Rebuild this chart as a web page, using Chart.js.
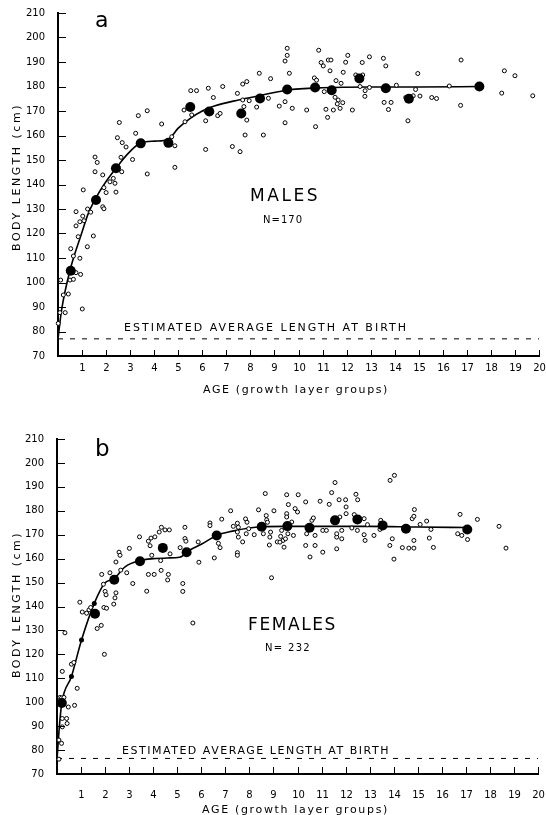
<!DOCTYPE html>
<html>
<head>
<meta charset="utf-8">
<script src="https://cdn.jsdelivr.net/npm/chart.js@4.4.1/dist/chart.umd.min.js"></script>
<style>
  html, body { margin: 0; padding: 0; background: #fff; }
  #wrap { position: relative; width: 546px; height: 815px; }
  canvas { position: absolute; left: 0; }
</style>
</head>
<body>
<div id="wrap">
  <canvas id="males" width="546" height="405" style="top:0"></canvas>
  <canvas id="females" width="546" height="410" style="top:405px"></canvas>
</div>
<script>
// ---- males (panel a) ----
const maleAge = [0.01,0.08,0.3,0.11,0.22,0.43,0.5,0.75,0.94,0.64,1.01,0.53,0.91,0.64,0.84,1.22,1.47,0.75,0.91,1.08,1.03,0.75,1.23,1.36,1.86,1.91,2.0,2.41,
  1.05,1.54,1.63,1.54,1.86,2.16,2.3,2.37,1.91,2.65,2.55,2.47,2.67,2.83,2.62,3.1,3.23,3.34,3.71,3.71,4.31,4.86,4.86,4.73,5.24,5.28,5.52,5.76,5.56,6.15,6.14,6.25,6.46,6.64,6.74,6.85,6.14,7.46,7.25,7.57,7.68,7.78,7.85,7.73,7.85,7.68,7.95,8.37,8.84,8.26,8.54,8.75,9.2,
  9.53,9.53,9.44,9.62,9.44,9.74,10.34,9.44,10.71,10.84,10.94,11.03,11.24,11.35,11.31,10.66,10.75,11.07,11.86,11.96,12.05,11.56,11.77,11.52,11.65,11.84,11.61,11.73,11.14,11.45,11.21,12.24,12.38,12.67,12.65,12.95,12.56,12.77,12.76,12.95,13.53,13.63,14.07,13.56,13.85,13.74,14.55,14.46,14.77,14.87,15.05,14.96,15.54,15.74,16.27,16.76,16.74,18.56,19.0,18.45,19.74];
const maleLen = [83.3,87.7,87.7,101,94.9,95.3,101,104,103.3,101.3,89.2,113.8,109.9,110.8,118.7,114.6,119,123.1,124.8,125.2,127.1,128.9,130,128.7,130.9,130.1,136.7,136.9,
  137.8,151.2,149,145.2,143.9,141.1,142.5,140.5,138.7,145.2,165.3,159.1,157.1,155.3,151.1,150.2,160.9,168.1,170.1,144.3,164.7,147,155.8,159.5,170.4,165.6,178.3,178.3,168.4,170,166,179.3,175.5,168.1,169,180,154.3,177.2,155.5,153.4,174.5,160.2,166.3,171.8,182,181,174.2,185.4,183.2,171.6,160.2,175.2,172,
  195.6,192.7,190.4,185.4,173.8,171.1,170.4,165.2,163.6,194.8,189.8,188.4,190.8,190.8,186.4,183.5,182.6,177.9,185.8,189.9,192.7,182.4,181.3,175.6,174.5,173.4,172.9,171.1,170.7,170.4,167.4,170.4,184.7,184.7,189.8,192.1,180,178.3,176,179.6,191.5,188.4,180.5,173.5,173.5,170.6,166,175.5,176.2,178.8,176.1,185.3,175.5,175.1,180.2,190.8,172.3,186.4,184.4,177.3,176.2];
const maleMeanAge = [0.53,1.58,2.41,3.44,4.59,5.5,6.29,7.62,8.4,9.53,10.69,11.38,12.53,13.63,14.59,17.52];
const maleMeanLen = [104.8,133.7,146.6,156.8,157,171.6,169.8,169,175.1,178.8,179.6,178.5,183.3,179.3,175,180];
const maleCurveAge = [0,0.15,0.5,0.98,1.26,1.54,1.95,2.41,2.92,3.45,4.03,4.59,5.0,5.5,6.0,6.5,7.5,8.5,9.5,11,13,15,17.52];
const maleCurveLen = [77,88.8,105,120,128.2,133.9,140.5,146.6,152.7,157,157.7,158.5,163,167,170,172,174.5,176.5,178.5,179.5,179.8,179.8,180];
const maleBirth = 77;

// ---- females (panel b) ----
const femaleAge = [0.95,1.05,1.23,1.33,1.4,1.67,1.84,1.97,1.95,2.06,2.36,0.33,0.22,0.6,0.7,0.84,0.73,0.12,0.19,0.29,0.47,0.22,0.4,0.42,0.22,0.19,0.08,0.08,5.65,
  1.86,2.2,1.93,2.0,2.04,2.41,2.45,2.45,2.58,2.62,2.65,2.9,3.01,3.15,3.73,3.43,3.8,3.87,3.91,4.07,4.25,4.34,4.49,4.67,3.8,4.04,4.33,4.63,4.6,3.94,4.31,4.7,5.23,5.23,5.12,5.32,5.32,5.36,5.9,5.87,6.36,6.36,6.54,6.71,6.78,6.85,7.22,7.33,7.5,7.54,7.5,7.54,7.72,7.5,7.5,7.84,7.9,7.97,7.87,8.2,8.38,8.66,8.7,8.72,8.75,8.58,8.88,8.85,8.83,9.16,8.92,9.02,
  9.55,9.62,10.03,9.9,10.0,9.55,9.55,9.76,9.34,9.6,9.83,9.3,9.4,9.5,9.44,9.27,10.34,10.6,10.66,10.38,10.45,10.73,10.73,10.34,10.52,10.94,11.32,11.42,11.56,11.73,12.0,12.02,12.02,11.05,11.2,11.05,11.63,11.76,11.63,11.63,11.84,11.84,12.26,12.43,12.5,12.36,12.49,12.77,12.91,12.77,12.81,13.18,13.46,13.43,13.85,14.03,13.94,13.84,14.01,14.36,14.63,14.84,14.84,14.77,14.84,14.86,15.1,15.37,15.55,15.48,15.65,16.76,16.66,16.83,17.07,17.48,18.38,18.67];
const femaleLen = [141.8,137.7,137.2,138.6,139.6,130.8,132.1,120,139.6,139.3,141,129,112.9,115.9,116.6,105.8,98.7,102,101.8,102,98,93.2,93.2,91.1,89.7,82.8,76.2,84.2,133.1,
  153.4,154.1,149.3,146.3,144.9,143.6,145.7,158.6,162.7,161.4,155.2,154.1,164.3,149.6,146.4,169.1,167.3,165.4,168.6,169.1,171.1,173.1,172,172,153.4,153.4,155.1,153.4,151.1,161.4,159.2,162,149.6,146.3,164.6,173.1,168.4,167.3,158.5,167,174.9,173.8,160.3,166.4,164.6,176.5,180,173.5,174.8,173.1,171.1,169,167,162.5,161.4,176.6,175.2,172.5,170.4,170,180.4,187.2,178,176.2,175.2,170.4,171.1,169,165.7,167,152,180,
  186.7,182.6,186.7,180.9,179.5,178.8,177.4,175.3,171.8,170.4,169.7,169.3,167.6,168.3,164.8,166.9,183.7,176,177,170.4,172.1,169.7,165.5,165.5,160.7,184,182.7,187.6,191.8,184.6,184.6,181.6,178.8,171.8,171.8,162.7,164.1,177.4,169,170.4,171.8,168.3,172.8,186.9,184.6,178.4,171.8,176.7,174.2,170,167.6,169.7,176,172.2,192.7,194.8,168.3,165.5,159.8,164.6,164.4,164.4,167.6,176.7,177.7,180.5,174.3,175.7,172.2,168.6,164.7,178.5,170.4,169.7,168,176.4,173.5,164.4];
const femaleMeanAge = [0.2,1.58,2.38,3.45,4.4,5.39,6.64,8.51,9.58,10.5,11.56,12.49,13.54,14.51,17.06];
const femaleMeanLen = [99.7,137,151.2,158.9,164.5,162.7,169.7,173.3,173.6,172.9,176,176.4,173.9,172.5,172.2];
const femaleDotAge = [0.6,1.02,1.55];
const femaleDotLen = [110.7,126,141.3];
const femaleCurveAge = [0,0.1,0.2,0.6,1.02,1.55,1.98,2.38,2.83,3.45,4.0,4.6,5.1,5.5,6.0,6.64,7.3,8.0,8.5,9.5,11,13,15,17.06];
const femaleCurveLen = [76,90,99.7,110.7,126,141.3,149.7,151.7,156.6,159.2,160,160.3,160.6,163.5,166,169.7,171.5,172.8,173.3,173.5,173.5,173.5,173.2,173];
const femaleBirth = 76.5;

const FONT = '"DejaVu Sans", sans-serif';

function pairs(xs, ys) {
  return xs.map((x, i) => ({x: x, y: ys[i]}));
}

// text with spacing stretched to a given width
function spaced(ctx, t) {
  ctx.save();
  ctx.font = t.font;
  ctx.fillStyle = '#000';
  ctx.textAlign = 'left';
  ctx.textBaseline = 'alphabetic';
  ctx.translate(t.x, t.y);
  if (t.rot) ctx.rotate(-Math.PI / 2);
  if (t.w) {
    ctx.letterSpacing = '0px';
    const natural = ctx.measureText(t.text).width;
    ctx.letterSpacing = ((t.w - natural) / t.text.length) + 'px';
  }
  ctx.fillText(t.text, 0, 0);
  ctx.letterSpacing = '0px';
  ctx.restore();
}

// inward tick marks, age labels under the axis, and the panel lettering
const decor = {
  id: 'decor',
  afterDraw(chart, args, opts) {
    const ctx = chart.ctx;
    const xs = chart.scales.x, ys = chart.scales.y;
    ctx.save();
    ctx.strokeStyle = '#000';
    ctx.fillStyle = '#000';
    ctx.lineWidth = 1;
    ys.ticks.forEach(t => {
      const py = Math.round(ys.getPixelForValue(t.value)) + 0.5;
      ctx.beginPath();
      ctx.moveTo(xs.left, py);
      ctx.lineTo(xs.left + 8, py);
      ctx.stroke();
    });
    ctx.font = '10px ' + FONT;
    ctx.textAlign = 'center';
    ctx.textBaseline = 'middle';
    xs.ticks.forEach(t => {
      if (t.value === 0) return;
      const px = Math.round(xs.getPixelForValue(t.value)) + 0.5;
      ctx.beginPath();
      ctx.moveTo(px, ys.bottom);
      ctx.lineTo(px, ys.bottom - opts.tick);
      ctx.stroke();
      ctx.fillText(String(t.value), px, ys.bottom + opts.labelGap);
    });
    ctx.restore();
    opts.texts.forEach(t => spaced(ctx, t));
  }
};

function makePanel(id, p) {
  const datasets = [
    { data: pairs(p.meanAge, p.meanLen), pointRadius: 5, backgroundColor: '#000', borderColor: '#000', borderWidth: 0, order: 0, clip: false },
    { data: pairs(p.openAge, p.openLen), pointRadius: 2, borderWidth: 1, backgroundColor: '#fff', borderColor: '#000', order: 1, clip: false },
    { type: 'line', data: pairs(p.curveAge, p.curveLen), borderColor: '#000', borderWidth: 1.6, pointRadius: 0, cubicInterpolationMode: 'monotone', fill: false, order: 2 },
    { type: 'line', data: [{x: 0, y: p.birth}, {x: 20, y: p.birth}], borderColor: '#000', borderWidth: 1, borderDash: [5, 7], pointRadius: 0, fill: false, order: 3 }
  ];
  if (p.dotAge) {
    datasets.push({ data: pairs(p.dotAge, p.dotLen), pointRadius: 2.5, backgroundColor: '#000', borderColor: '#000', borderWidth: 0, order: 0 });
  }
  return new Chart(document.getElementById(id), {
    type: 'scatter',
    data: { datasets: datasets },
    plugins: [decor],
    options: {
      responsive: false,
      animation: false,
      events: [],
      layout: { padding: { left: 0, top: p.top, right: p.right, bottom: 0 } },
      plugins: {
        legend: { display: false },
        tooltip: { enabled: false },
        decor: { texts: p.texts, tick: p.tick, labelGap: p.labelGap }
      },
      scales: {
        x: {
          type: 'linear', min: 0, max: 20,
          grid: { display: false },
          border: { display: true, width: 2, color: '#000' },
          ticks: { stepSize: 1, autoSkip: false, display: false },
          afterFit: s => { s.height = p.xHeight; s.paddingLeft = 0; s.paddingRight = 0; }
        },
        y: {
          min: 70, max: 210,
          grid: { display: false },
          border: { display: true, width: 2, color: '#000' },
          ticks: { stepSize: 10, padding: 5, color: '#000', font: { family: FONT, size: 10 } },
          afterFit: s => { s.width = p.yWidth; s.paddingTop = 0; s.paddingBottom = 0; }
        }
      }
    }
  });
}

makePanel('males', {
  openAge: maleAge, openLen: maleLen,
  meanAge: maleMeanAge, meanLen: maleMeanLen,
  curveAge: maleCurveAge, curveLen: maleCurveLen,
  birth: maleBirth,
  top: 13, right: 7, yWidth: 58, xHeight: 49, labelGap: 12.5, tick: 6,
  texts: [
    { text: 'a', x: 95, y: 27, font: '22px ' + FONT },
    { text: 'MALES', x: 250, y: 201, w: 70, font: '17px ' + FONT },
    { text: 'N=170', x: 263, y: 223, w: 40, font: '10px ' + FONT },
    { text: 'ESTIMATED AVERAGE LENGTH AT BIRTH', x: 124, y: 331, w: 284, font: '11px ' + FONT },
    { text: 'AGE (growth layer groups)', x: 203, y: 393, w: 186, font: '11px ' + FONT },
    { text: 'BODY LENGTH (cm)', x: 19.5, y: 251, w: 148, font: '11px ' + FONT, rot: true }
  ]
});

makePanel('females', {
  openAge: femaleAge, openLen: femaleLen,
  meanAge: femaleMeanAge, meanLen: femaleMeanLen,
  dotAge: femaleDotAge, dotLen: femaleDotLen,
  curveAge: femaleCurveAge, curveLen: femaleCurveLen,
  birth: femaleBirth,
  top: 34, right: 8, yWidth: 57, xHeight: 41, labelGap: 21.5, tick: 7,
  texts: [
    { text: 'b', x: 95, y: 51, font: '23px ' + FONT },
    { text: 'FEMALES', x: 248, y: 225, w: 89, font: '17px ' + FONT },
    { text: 'N= 232', x: 265, y: 246, w: 46, font: '10px ' + FONT },
    { text: 'ESTIMATED AVERAGE LENGTH AT BIRTH', x: 122, y: 349, w: 268, font: '11px ' + FONT },
    { text: 'AGE (growth layer groups)', x: 202, y: 408, w: 187, font: '11px ' + FONT },
    { text: 'BODY LENGTH (cm)', x: 19.5, y: 273, w: 147, font: '11px ' + FONT, rot: true }
  ]
});
</script>
</body>
</html>
